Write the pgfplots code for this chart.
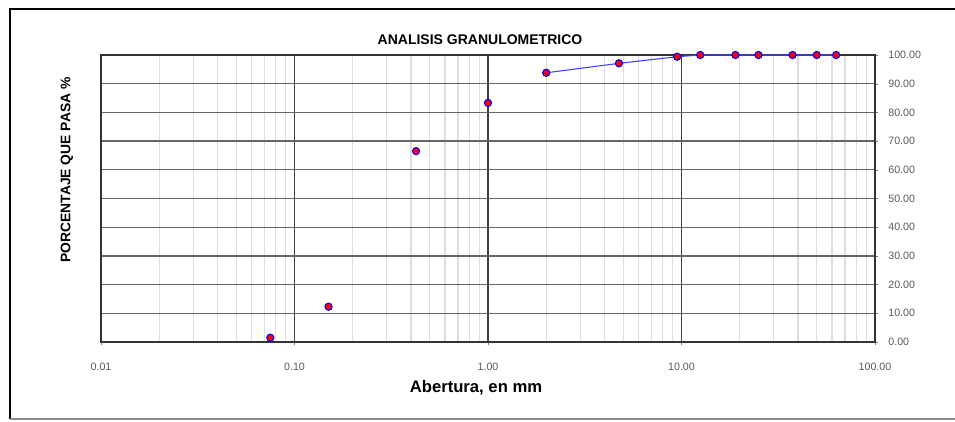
\documentclass[border=0pt]{standalone}
\usepackage{pgfplots}
\pgfplotsset{compat=1.18}
\usepackage{fontspec}
\setmainfont{Liberation Sans}

% tamices sin unir (lectura del grafico)
\pgfplotstableread{
x     y
0.075 1.5
0.15  12.3
0.425 66.5
1.00  83.3
}\sueltos
% tramo unido con linea
\pgfplotstableread{
x     y
2.00  93.8
4.75  97.1
9.50  99.4
12.5  100
19.0  100
25.0  100
37.5  100
50.0  100
63.0  100
}\unidos

\begin{document}
\begin{tikzpicture}[x=0.75pt,y=0.75pt]
\begin{axis}[
    name=ax,
    at={(0,0)}, anchor=south west,
    scale only axis,
    width=580.5pt, height=215.25pt,
    xmode=log,
    xmin=0.01, xmax=100,
    ymin=0, ymax=100,
    xtick={0.01,0.1,1,10,100},
    xticklabels={0.01,0.10,1.00,10.00,100.00},
    ytick={0,10,...,100},
    yticklabel pos=right,
    ytick pos=right,
    xtick pos=bottom,
    tick align=outside,
    major tick length=2.5pt,
    minor tick length=0pt,
    /pgf/number format/assume math mode=true,
    yticklabel style={/pgf/number format/fixed,
        /pgf/number format/fixed zerofill,
        /pgf/number format/precision=2},
    ticklabel style={font=\fontsize{8}{9}\selectfont, text=black!65},
    xticklabel style={yshift=-9.5pt},
    yticklabel style={xshift=4pt},
    grid=both,
    major x grid style={black!75, line width=0.9pt},
    minor x grid style={black!13, line width=0.9pt},
    major y grid style={black!60, line width=0.9pt},
    axis line style={black!80, line width=1pt},
]
\addplot[only marks, mark=*, mark size=2.7pt,
    mark options={fill=red, draw=blue, line width=0.8pt}] table {\sueltos};
\addplot[blue!75, line width=0.8pt, mark=*, mark size=2.7pt,
    mark options={fill=red, draw=blue, line width=0.8pt}] table {\unidos};
\end{axis}

\path[use as bounding box] ([shift={(-101,-79)}]ax.south west) rectangle ([shift={(854,342)}]ax.south west);
\draw[black, line width=2.2pt] ([shift={(854,333)}]ax.south west) -- ([shift={(-91,333)}]ax.south west) -- ([shift={(-91,-77)}]ax.south west);
\draw[black!45, line width=0.9pt] ([shift={(-91,-77)}]ax.south west) -- ([shift={(854,-77)}]ax.south west);

\node[font=\bfseries\fontsize{10.5}{12}\selectfont] at ([shift={(379,302)}]ax.south west) {ANALISIS GRANULOMETRICO};
\node[font=\bfseries\fontsize{12.5}{14}\selectfont] at ([shift={(375,-46)}]ax.south west) {Abertura, en mm};
\node[font=\bfseries\fontsize{10.4}{12}\selectfont, rotate=90] at ([shift={(-34,172)}]ax.south west) {PORCENTAJE QUE PASA \%};
\end{tikzpicture}
\end{document}
